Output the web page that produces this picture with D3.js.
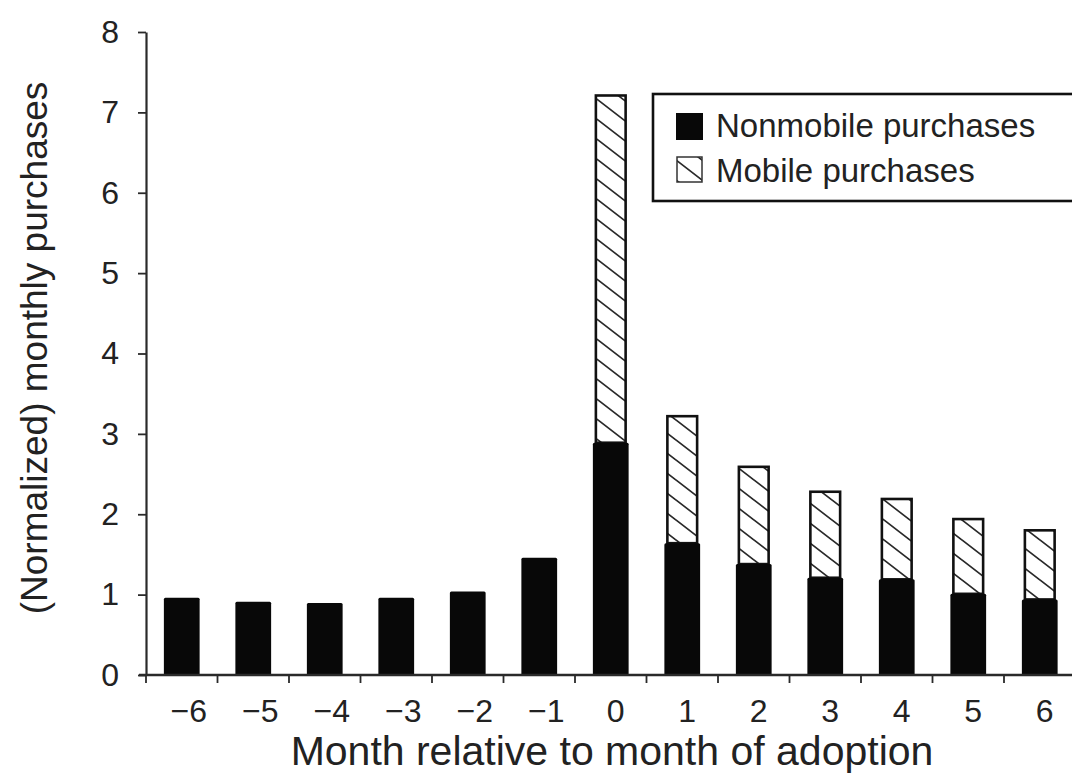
<!DOCTYPE html>
<html>
<head>
<meta charset="utf-8">
<script src="https://cdn.jsdelivr.net/npm/d3@7"></script>
<style>
  html, body { margin: 0; padding: 0; background: #fff; }
  svg { display: block; font-family: "Liberation Sans", Arial, Helvetica, sans-serif; }
</style>
</head>
<body>
<svg id="chart" width="1072" height="773"></svg>
<script>
// ---- data ----
const months = [-6, -5, -4, -3, -2, -1, 0, 1, 2, 3, 4, 5, 6];
const nonmobile = [0.96, 0.91, 0.895, 0.96, 1.04, 1.46, 2.89, 1.64, 1.38, 1.21, 1.19, 1.01, 0.94];
const mobile =    [0,    0,    0,     0,    0,    0,    4.32, 1.58, 1.21, 1.07, 1.00, 0.93, 0.86];
const yTicks = [0, 1, 2, 3, 4, 5, 6, 7, 8];
const legendLabels = ["Nonmobile purchases", "Mobile purchases"];
const xTitle = "Month relative to month of adoption";
const yTitle = "(Normalized) monthly purchases";

(function () {
// ---- layout ----
const svg = d3.select("#chart");
const mLeft = 146, mBottom = 675, mTop = 32;
const step = 71.5;

const x = d3.scaleBand()
  .domain(months)
  .range([mLeft, mLeft + step * months.length])
  .paddingInner(0.5)
  .paddingOuter(0.25);

const y = d3.scaleLinear().domain([0, 8]).range([mBottom, mTop]);

const defs = svg.append("defs");
const pat = defs.append("pattern")
  .attr("id", "hatch")
  .attr("patternUnits", "userSpaceOnUse")
  .attr("width", 26).attr("height", 20);
pat.append("rect").attr("width", 26).attr("height", 20).attr("fill", "#fff");
pat.append("path")
  .attr("d", "M-26,-20L52,40 M-26,-40L52,20 M-26,0L52,60")
  .attr("stroke", "#2a2a2a").attr("stroke-width", 1.7).attr("fill", "none");

const ink = "#111";

// ---- bars ----
const data = months.map((m, i) => ({ m, nm: nonmobile[i], mo: mobile[i] }));

const inset = 3;
svg.append("g").selectAll("rect")
  .data(data.filter(d => d.mo > 0))
  .join("rect")
  .attr("x", d => x(d.m) + inset)
  .attr("width", x.bandwidth() - 2 * inset)
  .attr("y", d => y(d.nm + d.mo))
  .attr("height", d => y(d.nm) - y(d.nm + d.mo))
  .attr("fill", "url(#hatch)")
  .attr("stroke", ink)
  .attr("stroke-width", 2.6);

svg.append("g").selectAll("rect")
  .data(data)
  .join("rect")
  .attr("x", d => x(d.m))
  .attr("width", x.bandwidth())
  .attr("y", d => y(d.nm))
  .attr("height", d => y(0) - y(d.nm))
  .attr("fill", "#080808")
  .attr("rx", 1.5);

// ---- axes ----
const axisColor = "#2a2a2a";
const yAxis = svg.append("g").attr("transform", `translate(${mLeft},0)`)
  .call(d3.axisLeft(y).tickValues(yTicks).tickSize(8).tickSizeOuter(0).tickPadding(19).tickFormat(d3.format("d")));
yAxis.select(".domain").attr("stroke", axisColor).attr("stroke-width", 2.2);
yAxis.selectAll(".tick line").attr("stroke", axisColor).attr("stroke-width", 1.8);
yAxis.selectAll(".tick text")
  .attr("font-size", 32).attr("fill", "#222")
  .attr("font-family", "Liberation Sans, Arial, sans-serif");

const xEnd = 1072;
svg.append("line")
  .attr("x1", mLeft - 7).attr("x2", xEnd)
  .attr("y1", mBottom).attr("y2", mBottom)
  .attr("stroke", axisColor).attr("stroke-width", 2.4);

const half = x.step() * x.paddingInner() / 2;
const boundaries = months.map(m => x(m) - half).concat([x(months[months.length - 1]) + x.bandwidth() + half]);
svg.append("g").selectAll("line")
  .data(boundaries)
  .join("line")
  .attr("x1", d => d).attr("x2", d => d)
  .attr("y1", mBottom).attr("y2", mBottom + 8)
  .attr("stroke", axisColor).attr("stroke-width", 1.8);

svg.append("g").selectAll("text")
  .data(months)
  .join("text")
  .attr("x", d => x(d) + x.bandwidth() / 2 + (d < 0 ? 7 : 5))
  .attr("y", 722)
  .attr("text-anchor", "middle")
  .attr("font-size", 32)
  .attr("fill", "#222")
  .text(d => d < 0 ? "\u2212" + Math.abs(d) : String(d));

svg.append("text")
  .attr("x", 612).attr("y", 765)
  .attr("text-anchor", "middle")
  .attr("font-size", 41)
  .attr("fill", "#222")
  .text(xTitle);

svg.append("text")
  .attr("transform", "translate(47,348) rotate(-90)")
  .attr("text-anchor", "middle")
  .attr("font-size", 37)
  .attr("fill", "#222")
  .text(yTitle);

// ---- legend ----
const lg = svg.append("g");
lg.append("rect")
  .attr("x", 653).attr("y", 94).attr("width", 440).attr("height", 107)
  .attr("fill", "#fff").attr("stroke", ink).attr("stroke-width", 2.6);
lg.append("rect")
  .attr("x", 676).attr("y", 113).attr("width", 27).attr("height", 27)
  .attr("fill", "#080808");
lg.append("rect")
  .attr("x", 677).attr("y", 157).attr("width", 25).attr("height", 25)
  .attr("fill", "url(#hatch)").attr("stroke", "#333").attr("stroke-width", 1.5);
lg.selectAll("text.lab")
  .data(legendLabels)
  .join("text")
  .attr("class", "lab")
  .attr("x", 716)
  .attr("y", (d, i) => 137 + i * 45)
  .attr("font-size", 33)
  .attr("fill", "#222")
  .text(d => d);
})();
</script>
</body>
</html>
